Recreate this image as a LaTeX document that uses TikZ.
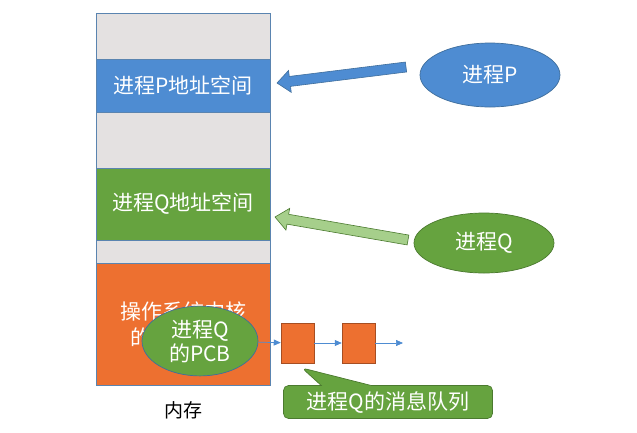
\documentclass[tikz,border=0pt]{standalone}
\usepackage{fontspec}
\newfontfamily\cjk{Noto Sans CJK SC}
\usetikzlibrary{arrows.meta,positioning,calc,shapes.geometric,shapes.callouts}

\definecolor{memgray}{HTML}{E4E1E1}
\definecolor{memline}{HTML}{5A84B0}
\definecolor{pblue}{HTML}{4E8CD2}
\definecolor{pblueline}{HTML}{3F6E9C}
\definecolor{qgreen}{HTML}{66A33F}
\definecolor{qgreenline}{HTML}{4B7A2F}
\definecolor{qlight}{HTML}{A6CF8B}
\definecolor{korange}{HTML}{ED7030}

\tikzset{
  seg/.style={draw=memline, line width=.7pt, minimum width=174pt, outer sep=0pt, inner sep=0pt,
    text=white, font=\cjk\fontsize{21}{26}\selectfont, align=center},
  proc/.style={ellipse, draw, line width=.7pt, minimum width=140pt, minimum height=64pt,
    text=white, font=\cjk\fontsize{21}{24}\selectfont, align=center},
  msgbox/.style={draw=korange!70!black, fill=korange, line width=.5pt, minimum width=33pt, minimum height=40pt},
  link/.style={draw=pblue, line width=.7pt, -{Triangle[length=7pt,width=6pt]}},
  note/.style={rectangle callout, rounded corners=5pt, draw=qgreenline, fill=qgreen, line width=.7pt,
    minimum width=209pt, minimum height=33pt, callout pointer width=50pt,
    text=white, font=\cjk\fontsize{21}{24}\selectfont}
}

% block arrow: #1 style, #2 tail, #3 tip
\newcommand\blockarrow[3]{%
  \coordinate (ba-h) at ($(#3)!13pt!(#2)$);
  \draw[#1] ($(#2)!5pt!90:(#3)$) -- ($(ba-h)!5pt!90:(#3)$) -- ($(ba-h)!11pt!90:(#3)$) -- (#3)
    -- ($(ba-h)!11pt!-90:(#3)$) -- ($(ba-h)!5pt!-90:(#3)$) -- ($(#2)!5pt!-90:(#3)$) -- cycle;}

\begin{document}
\begin{tikzpicture}[x=1pt, y=-1pt, node distance=0pt]
  \useasboundingbox[fill=white] (0,0) rectangle (637,432);

  % memory column
  \node[seg, fill=memgray, minimum height=46pt, anchor=north west] (free1) at (96,13) {};
  \node[seg, fill=pblue, minimum height=53pt, below=of free1] (pspace) {进程P地址空间};
  \node[seg, fill=memgray, minimum height=56pt, below=of pspace] (free2) {};
  \node[seg, fill=qgreen, minimum height=72pt, below=of free2] (qspace) {进程Q地址空间};
  \node[seg, fill=memgray, minimum height=23pt, below=of qspace] (free3) {};
  \node[seg, fill=korange, minimum height=122pt, below=of free3] (kernel) {操作系统内核\\的地址空间};
  \node[font=\cjk\fontsize{19}{22}\selectfont, below=13pt of kernel] (memlabel) {内存};

  % processes
  \node[proc, draw=pblueline, fill=pblue] (procP) at (490,75) {进程P};
  \node[proc, draw=qgreenline, fill=qgreen, minimum height=60pt] (procQ) at (484,243) {进程Q};
  \coordinate (tailP) at (406,67);
  \coordinate (tipP) at (277,83);
  \coordinate (tailQ) at (408,240);
  \coordinate (tipQ) at (275,217);
  \blockarrow{draw=pblueline, fill=pblue, line width=.6pt}{tailP}{tipP}
  \blockarrow{draw=qgreenline, fill=qlight, line width=.6pt}{tailQ}{tipQ}

  % message queue
  \node[proc, draw=pblueline, fill=qgreen, minimum width=116pt, minimum height=64pt] (pcb) at (200,341) {进程Q\\的PCB};
  \node[msgbox] (msgA) at (297.5,343) {};
  \node[msgbox] (msgB) at (358.5,343) {};
  \coordinate (qtail) at (403,343);
  \draw[link] (pcb) -- (msgA);
  \draw[link] (msgA) -- (msgB);
  \draw[link] (msgB) -- (qtail);

  \coordinate (notetip) at (302,368);
  \node[note, callout absolute pointer={(notetip)}] (qnote) at (388,402) {进程Q的消息队列};
\end{tikzpicture}
\end{document}
